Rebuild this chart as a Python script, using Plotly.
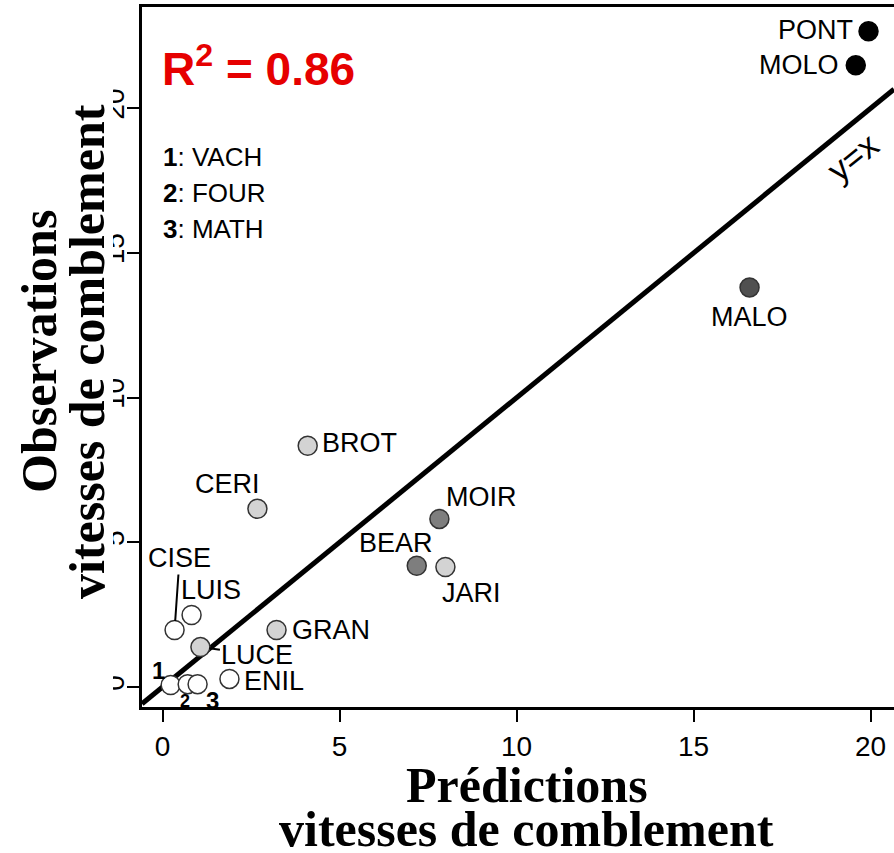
import plotly.graph_objects as go

# Sites: predicted vs observed infilling rates
sites = ["PONT", "MOLO", "MALO", "BROT", "CERI", "MOIR", "BEAR", "JARI",
         "CISE", "LUIS", "GRAN", "LUCE", "ENIL", "VACH", "FOUR", "MATH"]
predicted = [19.94, 19.58, 16.58, 4.10, 2.68, 7.82, 7.18, 7.99,
             0.34, 0.82, 3.22, 1.07, 1.89, 0.23, 0.71, 0.99]
observed = [22.66, 21.49, 13.81, 8.34, 6.16, 5.81, 4.19, 4.15,
            1.97, 2.49, 1.97, 1.38, 0.28, 0.07, 0.10, 0.10]
groups = ["black", "black", "dark", "light", "light", "mid", "mid", "light",
          "white", "white", "light", "light", "white", "white", "white", "white"]

x_ticks = [0, 5, 10, 15, 20]
y_ticks = [0, 5, 10, 15, 20]
x_range = [-0.58, 20.66]
y_range = [-0.69, 23.5]

numbered = {"VACH": "1", "FOUR": "2", "MATH": "3"}
r2_text = "R<sup>2</sup> = 0.86"

fill = {"white": "#ffffff", "light": "#d3d3d3", "mid": "#7e7e7e",
        "dark": "#505050", "black": "#000000"}
edge = {"white": "#333333", "light": "#333333", "mid": "#333333",
        "dark": "#333333", "black": "#000000"}

# label placement: (xanchor, xshift, yshift) in pixels
label_pos = {
    "PONT": ("right", -14, 1), "MOLO": ("right", -15, 0),
    "MALO": ("center", 0, -30), "BROT": ("left", 12, 3),
    "CERI": ("center", -30, 25), "MOIR": ("left", 5, 22),
    "BEAR": ("center", -21, 23), "JARI": ("center", 26, -26),
    "LUIS": ("center", 19, 25), "GRAN": ("left", 13, 0),
    "ENIL": ("left", 13, -2),
}
arrow_pos = {"CISE": (5, -72), "LUCE": (57, 8)}
num_pos = {"VACH": (-12, 15, 24), "FOUR": (-3, -17, 18), "MATH": (15, -16, 24)}

W, H = 894, 853
L, R, T, B = 142, 0, 7, 146


def px(x):
    return (x - L) / (W - L - R)


def py(y):
    return (H - B - y) / (H - T - B)


fig = go.Figure()

# y = x line
fig.add_trace(go.Scatter(x=x_range, y=x_range, mode="lines",
                         line=dict(color="black", width=5),
                         hoverinfo="skip", showlegend=False))

fig.add_trace(go.Scatter(
    x=predicted, y=observed, mode="markers", text=sites,
    marker=dict(size=19, color=[fill[g] for g in groups],
                line=dict(color=[edge[g] for g in groups], width=1.5)),
    showlegend=False))

lab_font = dict(family="Liberation Sans, Arial, sans-serif", size=27, color="black")
for name, xv, yv in zip(sites, predicted, observed):
    if name in label_pos:
        anc, dx, dy = label_pos[name]
        fig.add_annotation(x=xv, y=yv, text=name, showarrow=False, xanchor=anc,
                           yanchor="middle", xshift=dx, yshift=dy, font=lab_font)
    elif name in arrow_pos:
        ax, ay = arrow_pos[name]
        fig.add_annotation(x=xv, y=yv, text=name, showarrow=True, arrowhead=0,
                           arrowwidth=2, arrowcolor="black", ax=ax, ay=ay,
                           standoff=9, font=lab_font)
    elif name in numbered:
        dx, dy, sz = num_pos[name]
        fig.add_annotation(x=xv, y=yv, text="<b>" + numbered[name] + "</b>",
                           showarrow=False, xshift=dx, yshift=dy,
                           xanchor="center", yanchor="middle",
                           font=dict(family="Liberation Sans, Arial", size=sz, color="black"))

# y=x label along the line
fig.add_annotation(x=19.5, y=18.3, text="y=x", textangle=-39, showarrow=False,
                   xanchor="center", yanchor="middle",
                   font=dict(family="Liberation Sans, Arial", size=34, color="black"))

# key for numbered sites
for i, (name, num) in enumerate(numbered.items()):
    fig.add_annotation(xref="paper", yref="paper", x=px(161), y=py(157 + 36 * i),
                       xanchor="left", yanchor="middle", showarrow=False,
                       text="<b>" + num + "</b>: " + name,
                       font=dict(family="Liberation Sans, Arial", size=26, color="black"))

# R² box covering the top of the axis
fig.add_shape(type="rect", xref="paper", yref="paper", x0=px(142), x1=px(372),
              y0=py(104), y1=py(25), fillcolor="white", line=dict(width=0), layer="above")
fig.add_annotation(xref="paper", yref="paper", x=px(160), y=py(66), xanchor="left",
                   yanchor="middle", showarrow=False, text="<b>" + r2_text + "</b>",
                   font=dict(family="Liberation Sans, Arial", size=46, color="#e60000"))

# clip the left half of the y tick labels like the original
fig.add_shape(type="rect", xref="paper", yref="paper", x0=px(88), x1=px(113),
              y0=py(720), y1=py(0), fillcolor="white", line=dict(width=0), layer="above")

title_font = dict(family="Liberation Serif, Times New Roman, serif", size=50, color="black")
titles = [
    (527, 785, 0, "Prédictions"),
    (526, 829, 0, "vitesses de comblement"),
    (39, 352, -90, "Observations"),
    (87, 352, -90, "vitesses de comblement"),
]
for tx, ty, ang, txt in titles:
    fig.add_annotation(xref="paper", yref="paper", x=px(tx), y=py(ty), showarrow=False,
                       xanchor="center", yanchor="middle", textangle=ang,
                       text="<b>" + txt + "</b>", font=title_font)

tick_font = dict(family="Liberation Sans, Arial, sans-serif", size=28, color="black")
fig.update_xaxes(range=x_range, tickvals=x_ticks, ticks="outside", ticklen=12,
                 tickwidth=2, tickcolor="black", showline=True, linewidth=3,
                 linecolor="black", mirror=True, showgrid=False, zeroline=False,
                 tickfont=tick_font)
fig.update_yaxes(range=y_range, tickvals=y_ticks, ticks="outside", ticklen=12,
                 tickwidth=2, tickcolor="black", showline=True, linewidth=3,
                 linecolor="black", showgrid=False, zeroline=False,
                 tickangle=-90, ticklabelstandoff=-8, tickfont=tick_font)

fig.update_layout(width=W, height=H, margin=dict(l=L, r=R, t=T, b=B),
                  paper_bgcolor="white", plot_bgcolor="white", showlegend=False)

fig.write_html("out.html", config={"displayModeBar": False},
               post_script="document.body.style.margin='0';"
                           "document.body.style.overflow='hidden';")
